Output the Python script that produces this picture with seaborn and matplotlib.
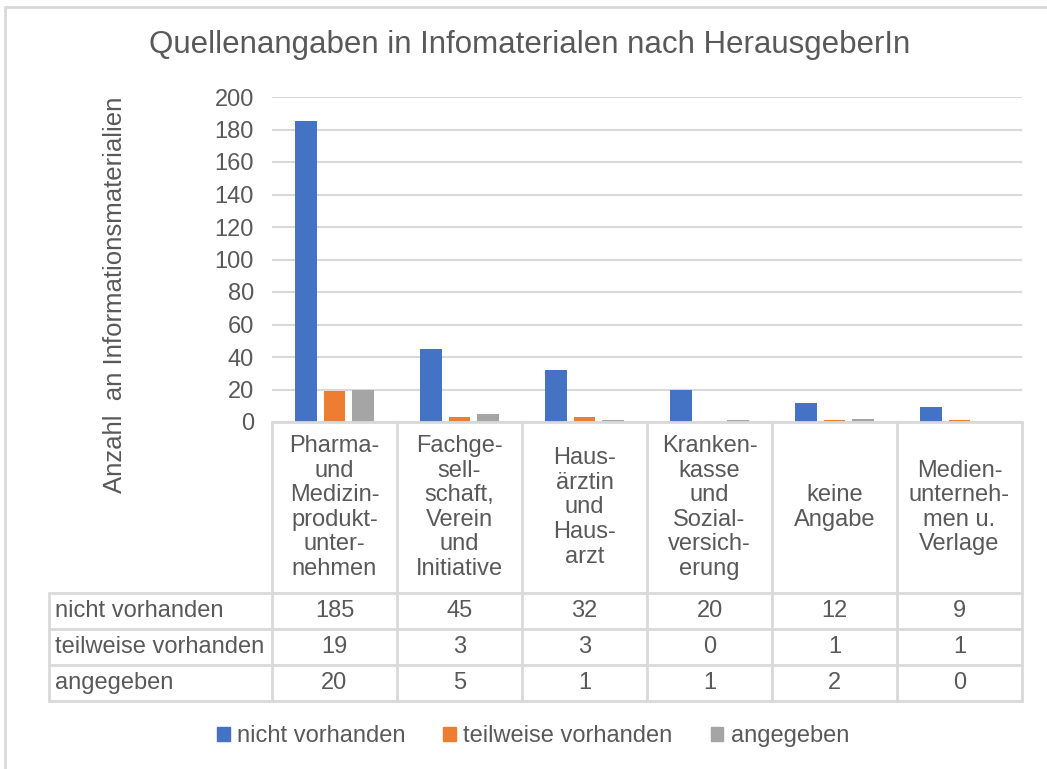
import matplotlib
matplotlib.use("Agg")
import matplotlib.pyplot as plt
import matplotlib.transforms as mtransforms
import pandas as pd
import seaborn as sns

# data
categories = [
    "Pharma-\nund\nMedizin-\nprodukt-\nunter-\nnehmen",
    "Fachge-\nsell-\nschaft,\nVerein\nund\nInitiative",
    "Haus-\närztin\nund\nHaus-\narzt",
    "Kranken-\nkasse\nund\nSozial-\nversich-\nerung",
    "keine\nAngabe",
    "Medien-\nunterneh-\nmen u.\nVerlage",
]
series = ["nicht vorhanden", "teilweise vorhanden", "angegeben"]
nicht_vorhanden = [185, 45, 32, 20, 12, 9]
teilweise_vorhanden = [19, 3, 3, 0, 1, 1]
angegeben = [20, 5, 1, 1, 2, 0]
colors = ["#4472C4", "#ED7D31", "#A5A5A5"]
y_ticks = list(range(0, 201, 20))

values = [nicht_vorhanden, teilweise_vorhanden, angegeben]
df = pd.DataFrame({
    "cat": categories * 3,
    "serie": [s for s in series for _ in categories],
    "wert": [v for vals in values for v in vals],
})

sns.set_style("white")
plt.rcParams["font.family"] = ["Liberation Sans", "DejaVu Sans"]
txt = "#595959"
line = "#D9D9D9"
fs = 17

W, H = 1047, 769
fig = plt.figure(figsize=(W / 100, H / 100), dpi=100)
ax = fig.add_axes([272 / W, 1 - 422 / H, 750 / W, 325 / H])

sns.barplot(data=df, x="cat", y="wert", hue="serie", palette=colors,
            width=0.684, gap=0.23, linewidth=0, saturation=1, ax=ax, legend=False)

ax.set_ylim(0, 200)
ax.set_xlim(-0.5, len(categories) - 0.5)
ax.set_yticks(y_ticks)
ax.set_yticklabels([str(t) for t in y_ticks], fontsize=fs, color=txt)
ax.set_xticks([])
ax.set_xlabel("")
ax.set_ylabel("")
ax.tick_params(axis="y", length=0, pad=13)
ax.yaxis.grid(True, color=line, linewidth=1.5)
ax.set_axisbelow(True)
for s in ax.spines.values():
    s.set_visible(False)

# data table under the plot
tr = mtransforms.blended_transform_factory(ax.transData, ax.transAxes)
row_y = [0, -0.526, -0.637, -0.748, -0.858]
left = -0.297
n = len(categories)
kw = dict(color=line, linewidth=2, clip_on=False)
ax.plot([-0.5, n - 0.5], [0, 0], transform=tr, **kw)
for y in row_y[1:]:
    ax.plot([left, 1], [y, y], transform=ax.transAxes, **kw)
ax.plot([left, left], [row_y[1], row_y[-1]], transform=ax.transAxes, **kw)
for i in range(n + 1):
    ax.plot([i - 0.5, i - 0.5], [0, row_y[-1]], transform=tr, **kw)

for i, c in enumerate(categories):
    ax.text(i, (row_y[0] + row_y[1]) / 2, c, transform=tr, ha="center",
            va="center", fontsize=fs, color=txt, linespacing=1.15)
for r, (name, vals) in enumerate(zip(series, values)):
    yc = (row_y[r + 1] + row_y[r + 2]) / 2
    ax.text(left + 0.007, yc, name, transform=ax.transAxes, ha="left",
            va="center", fontsize=fs, color=txt)
    for i, v in enumerate(vals):
        ax.text(i, yc, str(v), transform=tr, ha="center", va="center",
                fontsize=fs, color=txt)

fig.text(530 / W, 1 - 45 / H, "Quellenangaben in Infomaterialen nach HerausgeberIn",
         ha="center", va="center", fontsize=22.5, color=txt)
fig.text(115 / W, 1 - 295 / H, "Anzahl  an Informationsmaterialien",
         rotation=90, ha="center", va="center", fontsize=18.5, color=txt)

handles = [plt.Rectangle((0, 0), 1, 1, color=c) for c in colors]
fig.legend(handles, series, loc="center", bbox_to_anchor=(533 / W, 1 - 736 / H),
           ncol=3, frameon=False, fontsize=fs, labelcolor=txt,
           handlelength=0.55, handleheight=0.55, handletextpad=0.3, columnspacing=1.6)

# outer frame (top and left only visible)
fig.add_artist(plt.Line2D([5 / W, 1], [1 - 7 / H, 1 - 7 / H], color=line, linewidth=2))
fig.add_artist(plt.Line2D([5 / W, 5 / W], [0, 1 - 7 / H], color=line, linewidth=2))

fig.savefig("out.png", dpi=100)
